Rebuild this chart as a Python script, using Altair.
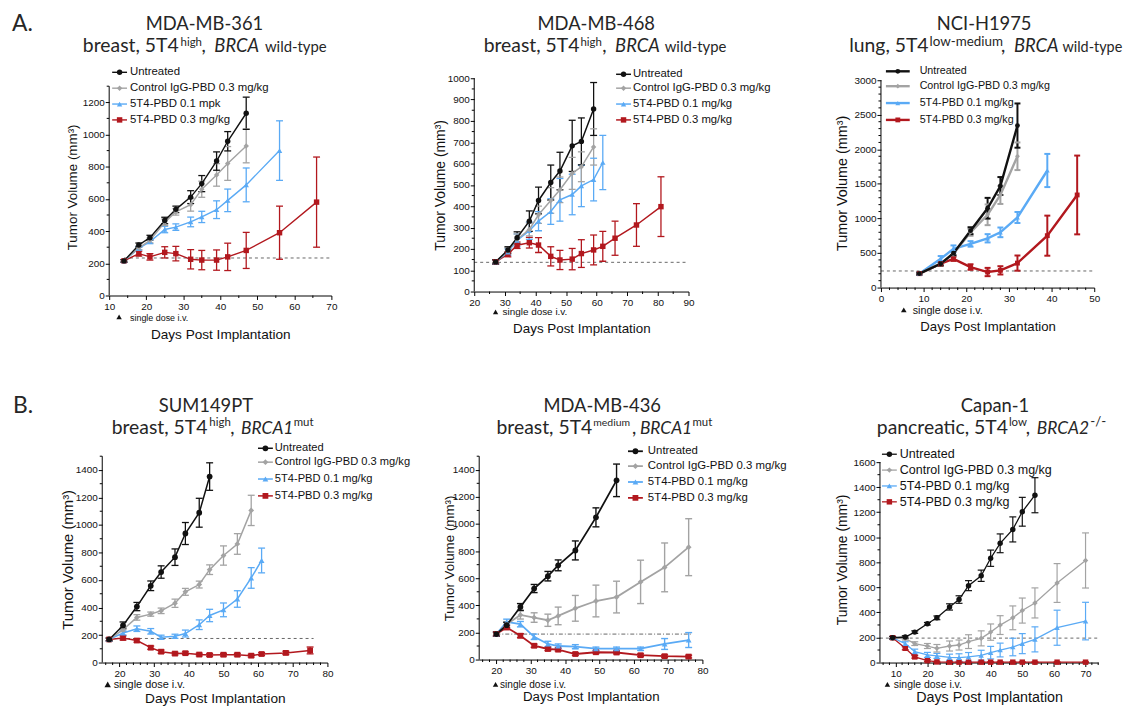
import math
import altair as alt
import pandas as pd

# ---------------- values ----------------
# A1  MDA-MB-361
A1_UNT_DAY = [14, 18, 21, 25, 28, 32, 35, 39, 42, 47]
A1_UNT = [215, 314, 359, 466, 535, 611, 695, 835, 958, 1132]
A1_UNT_SEM = [8, 12, 15, 20, 20, 40, 50, 57, 60, 100]
A1_CTL_DAY = [14, 18, 21, 25, 28, 32, 35, 39, 42, 47]
A1_CTL = [215, 297, 342, 455, 519, 564, 660, 749, 820, 929]
A1_CTL_SEM = [8, 12, 15, 20, 20, 40, 50, 70, 105, 105]
A1_LOW_DAY = [14, 18, 21, 25, 28, 32, 35, 39, 42, 47, 56]
A1_LOW = [215, 293, 334, 410, 425, 457, 488, 533, 591, 687, 900]
A1_LOW_SEM = [8, 10, 12, 20, 20, 30, 35, 55, 70, 105, 185]
A1_HIGH_DAY = [14, 18, 21, 25, 28, 32, 35, 39, 42, 47, 56, 66]
A1_HIGH = [215, 260, 240, 268, 260, 225, 220, 220, 240, 280, 390, 580]
A1_HIGH_SEM = [8, 15, 20, 35, 45, 60, 60, 63, 85, 112, 165, 280]
A1_BASE = 233

# A2  MDA-MB-468
A2_UNT_DAY = [27, 31, 34, 38, 41, 45, 48, 52, 55, 59]
A2_UNT = [139, 195, 252, 330, 427, 511, 565, 683, 704, 856]
A2_UNT_SEM = [10, 15, 28, 48, 63, 82, 88, 120, 110, 124]
A2_CTL_DAY = [27, 31, 34, 38, 41, 45, 48, 52, 55, 59]
A2_CTL = [139, 190, 245, 291, 360, 427, 477, 554, 585, 678]
A2_CTL_SEM = [10, 15, 25, 30, 40, 60, 60, 75, 70, 85]
A2_LOW_DAY = [27, 31, 34, 38, 41, 45, 48, 52, 55, 59, 62]
A2_LOW = [139, 185, 240, 285, 330, 375, 430, 455, 495, 525, 605]
A2_LOW_SEM = [10, 15, 30, 40, 45, 60, 100, 95, 97, 100, 127]
A2_HIGH_DAY = [27, 31, 34, 38, 41, 45, 48, 52, 55, 59, 62, 66, 73, 81]
A2_HIGH = [139, 175, 217, 229, 218, 165, 148, 152, 178, 195, 212, 250, 312, 398]
A2_HIGH_SEM = [8, 12, 15, 25, 35, 45, 45, 50, 65, 70, 70, 80, 100, 140]
A2_BASE = 137

# A3  NCI-H1975
A3_UNT_DAY = [9, 14, 17, 21, 25, 28, 32]
A3_UNT = [201, 344, 498, 823, 1148, 1469, 2344]
A3_UNT_SEM = [15, 25, 30, 50, 150, 130, 320]
A3_CTL_DAY = [9, 14, 17, 21, 25, 28, 32]
A3_CTL = [201, 350, 488, 799, 1053, 1340, 1900]
A3_CTL_SEM = [15, 25, 30, 50, 150, 130, 200]
A3_LOW_DAY = [9, 14, 17, 21, 25, 28, 32, 39]
A3_LOW = [201, 416, 560, 632, 713, 799, 1014, 1694]
A3_LOW_SEM = [15, 40, 50, 40, 60, 70, 80, 240]
A3_HIGH_DAY = [9, 14, 17, 21, 25, 28, 32, 39, 46]
A3_HIGH = [201, 345, 416, 297, 225, 249, 354, 751, 1340]
A3_HIGH_SEM = [15, 25, 30, 40, 60, 60, 110, 290, 570]
A3_BASE = 240

# B1  SUM149PT
B1_UNT_DAY = [17, 21, 25, 29, 32, 36, 39, 43, 46]
B1_UNT = [168, 270, 407, 558, 658, 766, 938, 1089, 1352]
B1_UNT_SEM = [10, 25, 30, 35, 45, 60, 80, 105, 100]
B1_CTL_DAY = [17, 21, 25, 29, 32, 36, 39, 43, 46, 50, 54, 58]
B1_CTL = [168, 239, 328, 352, 376, 431, 514, 567, 675, 778, 862, 1106]
B1_CTL_SEM = [10, 15, 20, 15, 20, 30, 25, 25, 35, 70, 75, 110]
B1_LOW_DAY = [17, 21, 25, 29, 32, 36, 39, 43, 46, 50, 54, 58, 61]
B1_LOW = [168, 215, 246, 227, 184, 191, 211, 275, 342, 383, 462, 615, 742]
B1_LOW_SEM = [10, 15, 20, 20, 15, 15, 25, 35, 45, 50, 60, 75, 90]
B1_HIGH_DAY = [17, 21, 25, 29, 32, 36, 39, 43, 46, 50, 54, 58, 61, 68, 75]
B1_HIGH = [168, 179, 160, 108, 79, 65, 68, 58, 55, 57, 57, 50, 62, 70, 88]
B1_HIGH_SEM = [10, 15, 12, 12, 12, 10, 10, 10, 10, 10, 10, 10, 10, 12, 25]
B1_BASE = 175

# B2  MDA-MB-436
B2_UNT_DAY = [20, 23, 27, 31, 35, 38, 43, 49, 55]
B2_UNT = [188, 254, 388, 524, 615, 695, 805, 1049, 1322]
B2_UNT_SEM = [15, 20, 25, 30, 35, 40, 70, 70, 120]
B2_CTL_DAY = [20, 23, 27, 31, 35, 38, 43, 49, 55, 62, 69, 76]
B2_CTL = [188, 260, 329, 310, 290, 322, 378, 432, 461, 573, 680, 829]
B2_CTL_SEM = [15, 20, 30, 35, 45, 65, 95, 117, 117, 160, 180, 210]
B2_LOW_DAY = [20, 23, 27, 31, 35, 38, 43, 49, 55, 62, 69, 76]
B2_LOW = [188, 278, 261, 168, 115, 100, 95, 80, 80, 80, 115, 144]
B2_LOW_SEM = [15, 20, 20, 20, 20, 15, 15, 12, 12, 12, 40, 55]
B2_HIGH_DAY = [20, 23, 27, 31, 35, 38, 43, 49, 55, 62, 69, 76]
B2_HIGH = [188, 237, 176, 102, 78, 73, 41, 54, 52, 32, 25, 22]
B2_HIGH_SEM = [15, 15, 15, 12, 12, 10, 10, 10, 10, 10, 10, 10]
B2_BASE = 188

# B3  Capan-1
B3_UNT_DAY = [9, 13, 16, 20, 23, 27, 30, 33, 37, 40, 43, 47, 50, 54]
B3_UNT = [198, 204, 243, 310, 357, 444, 503, 614, 693, 833, 952, 1063, 1204, 1336]
B3_UNT_SEM = [10, 10, 10, 10, 15, 25, 30, 40, 45, 65, 75, 100, 115, 140]
B3_CTL_DAY = [9, 13, 16, 20, 23, 27, 30, 33, 37, 40, 43, 47, 50, 54, 61, 70]
B3_CTL = [198, 190, 151, 132, 114, 132, 140, 167, 193, 243, 299, 357, 415, 476, 635, 815]
B3_CTL_SEM = [10, 10, 15, 20, 30, 40, 40, 55, 60, 65, 75, 95, 100, 120, 155, 220]
B3_LOW_DAY = [9, 13, 16, 20, 23, 27, 30, 33, 37, 40, 43, 47, 50, 54, 61, 70]
B3_LOW = [198, 151, 87, 61, 53, 42, 40, 45, 58, 79, 100, 124, 151, 185, 278, 331]
B3_LOW_SEM = [10, 15, 20, 20, 20, 25, 30, 35, 40, 50, 55, 70, 80, 100, 140, 150]
B3_HIGH_DAY = [9, 13, 16, 20, 23, 27, 30, 33, 37, 40, 43, 47, 50, 54, 61, 70]
B3_HIGH = [198, 114, 45, 15, 5, 3, 3, 3, 3, 3, 3, 3, 3, 3, 3, 3]
B3_HIGH_SEM = [10, 12, 10, 8, 5, 3, 3, 3, 3, 3, 3, 3, 3, 3, 3, 3]
B3_BASE = 195

KEYS = ["high", "low", "ctl", "unt"]          # drawing order (black on top)
COLORS = ["#b2181e", "#5aaaf5", "#a3a3a3", "#111111"]
SHAPES = ["square", "triangle-up", "diamond", "circle"]
LEG_KEYS = ["unt", "ctl", "low", "high"]
LABELS_STD = ["Untreated", "Control IgG-PBD 0.3 mg/kg", "5T4-PBD 0.1 mg/kg", "5T4-PBD 0.3 mg/kg"]
LABELS_A1 = ["Untreated", "Control IgG-PBD 0.3 mg/kg", "5T4-PBD 0.1 mpk", "5T4-PBD 0.3 mg/kg"]

XT = "Days Post Implantation"
YT = "Tumor Volume (mm³)"
TFONT = "Lato"
AFONT = "Liberation Sans"


def ser(p):
    g = globals()
    return {k: (g[f"{p}_{k.upper()}_DAY"], g[f"{p}_{k.upper()}"], g[f"{p}_{k.upper()}_SEM"]) for k in KEYS}


# ---------------- layout / style (page pixel positions) ----------------
# box = (left, top, width, height) of the view; ytop = top of the drawn y axis line
PANELS = {
    "A1": dict(box=(110, 76, 224, 219), xd=(10, 70), yd=(0, 1349.3), ytop=1300, xticks=(10, 5), yticks=(200, 100),
               base=(A1_BASE, 14, 70), dash=[3, 3], lw=1.4, ew=1.3, ms=30, cap=7, lab=10,
               xtitle=(13.7, 43), ytitle=(13.5, -33),
               legend=dict(rows=[70, 86, 102, 118], x1=113, x2=128, xm=120.5, xt=131, fs=11.5, labels=LABELS_A1),
               dose=dict(tri=(120, 316.5), ts=30, txt=(131, 320.5), fs=9),
               title=[("A.", 12, 28, 23, "left", False),
                      ("MDA-MB-361", 206, 27, 18.5, "center", False),
                      ("breast, 5T4", 180, 50, 19.5, "right", False),
                      ("high", 182, 43, 11.5, "left", False),
                      (",", 203, 50, 19, "left", False),
                      ("BRCA", 216, 50, 18.5, "left", True),
                      ("wild-type", 267, 50, 15, "left", False)]),
    "A2": dict(box=(478, 76, 216, 215), xd=(20, 90), yd=(0, 1000), ytop=1000, xticks=(10, 5), yticks=(100, 50),
               base=(A2_BASE, 20, 90), dash=[3, 3], lw=1.5, ew=1.3, ms=30, cap=7, lab=10,
               xtitle=(13.5, 41), ytitle=(14, -30),
               legend=dict(rows=[72, 86, 102, 118], x1=621, x2=636, xm=628.5, xt=638, fs=11.4, labels=LABELS_STD),
               dose=dict(tri=(499.5, 311.5), ts=28, txt=(506.5, 315), fs=10),
               title=[("MDA-MB-468", 601, 27, 18.5, "center", False),
                      ("breast, 5T4", 584, 50, 19.5, "right", False),
                      ("high", 585, 43, 11.5, "left", False),
                      (",", 607, 50, 19, "left", False),
                      ("BRCA", 620, 50, 18.5, "left", True),
                      ("wild-type", 670, 50, 15, "left", False)]),
    "A3": dict(box=(888, 76, 215, 211), xd=(0, 50), yd=(0, 3028.7), ytop=3000, xticks=(10, 2), yticks=(500, 100),
               base=(A3_BASE, 0, 50), dash=[3, 3], lw=2.4, ew=2.0, ms=24, cap=6, lab=10,
               xtitle=(13.3, 43), ytitle=(14.5, -35),
               legend=dict(rows=[69, 84, 101, 118], x1=893, x2=917, xm=905, xt=927, fs=10.8, labels=LABELS_STD),
               dose=dict(tri=(911, 309.5), ts=32, txt=(920, 313.5), fs=10.8),
               title=[("NCI-H1975", 992, 27, 18.5, "center", False),
                      ("lung, 5T4", 936, 50, 19.5, "right", False),
                      ("low-medium", 937, 43, 13.5, "left", False),
                      (",", 1009, 50, 19, "left", False),
                      ("BRCA", 1022, 50, 18.5, "left", True),
                      ("wild-type", 1071, 50, 14.5, "left", False)]),
    "B1": dict(box=(103, 457, 227, 208), xd=(15, 80), yd=(0, 1500), ytop=1500, xticks=(10, 2), yticks=(200, 100),
               base=(B1_BASE, 17, 76), dash=[3, 3], lw=1.5, ew=1.3, ms=34, cap=7, lab=10,
               xtitle=(13.8, 40), ytitle=(15, -30),
               legend=dict(rows=[449, 463, 480, 497], x1=260, x2=275, xm=267.5, xt=277, fs=11.2, labels=LABELS_STD),
               dose=dict(tri=(108.5, 687), ts=42, txt=(114.5, 691), fs=11),
               title=[("B.", 13, 413, 23, "left", False),
                      ("SUM149PT", 207.5, 412, 18.5, "center", False),
                      ("breast, 5T4", 209, 435, 19.5, "right", False),
                      ("high", 211, 427, 11.5, "left", False),
                      (",", 232, 435, 19, "left", False),
                      ("BRCA1", 243, 435, 17.5, "left", True),
                      ("mut", 296, 427, 11.5, "left", False)]),
    "B2": dict(box=(483, 457, 225, 205), xd=(15, 80), yd=(0, 1500), ytop=1500, xticks=(10, 2), yticks=(200, 100),
               base=(B2_BASE, 20, 77), dash=[4, 2, 1, 2], lw=1.8, ew=1.4, ms=34, cap=7, lab=10,
               xtitle=(13.4, 41), ytitle=(13.5, -26),
               legend=dict(rows=[452, 467, 483, 499], x1=633, x2=648, xm=640.5, xt=653, fs=11.5, labels=LABELS_STD),
               dose=dict(tri=(499.5, 687), ts=30, txt=(504, 691), fs=10.2),
               title=[("MDA-MB-436", 607, 412, 18.5, "center", False),
                      ("breast, 5T4", 597, 435, 19.5, "right", False),
                      ("medium", 598, 427, 10.5, "left", False),
                      (",", 637, 435, 19, "left", False),
                      ("BRCA1", 645, 435, 17.5, "left", True),
                      ("mut", 698, 427, 11.5, "left", False)]),
    "B3": dict(box=(887, 457, 220, 208), xd=(5, 74), yd=(0, 1647.5), ytop=1600, xticks=(10, 2), yticks=(200, 100),
               base=(B3_BASE, 5, 74), dash=[3, 3], lw=1.3, ew=1.2, ms=30, cap=7, lab=10,
               xtitle=(14.4, 39), ytitle=(14, -34),
               legend=dict(rows=[455, 471, 487, 503], x1=889, x2=904, xm=896.5, xt=907, fs=12.6, labels=LABELS_STD),
               dose=dict(tri=(894.5, 687), ts=30, txt=(901, 691), fs=10.5),
               title=[("Capan-1", 1003, 412, 18.5, "center", False),
                      ("pancreatic, 5T4", 1016, 435, 19.5, "right", False),
                      ("low", 1017, 427, 11.5, "left", False),
                      (",", 1034, 435, 19, "left", False),
                      ("BRCA2", 1045, 435, 17.5, "left", True),
                      ("-/-", 1099, 427, 13.5, "left", False)]),
}


def spacer(w, h):
    return (alt.Chart(pd.DataFrame({"s": [0]}))
            .mark_point(opacity=0, size=1)
            .encode(x=alt.value(0), y=alt.value(0))
            .properties(width=w, height=h))


def make_panel(name, anchor=False):
    P = PANELS[name]
    L, T, W, H = P["box"]
    d0, d1 = P["xd"]
    y0, y1 = P["yd"]

    def ux(px):
        return d0 + (px - L) / W * (d1 - d0)

    def uy(py):
        return y1 - (py - T) / H * (y1 - y0)

    series = ser(name)
    rows, caps = [], []
    for key in KEYS:
        days, vals, sems = series[key]
        for d, v, e in zip(days, vals, sems):
            lo, hi = max(v - e, 0), v + e
            rows.append(dict(key=key, day=d, v=v, lo=lo, hi=hi))
            caps.append(dict(key=key, day=d, c=lo))
            caps.append(dict(key=key, day=d, c=hi))
    df = pd.DataFrame(rows)
    cdf = pd.DataFrame(caps)

    xs = alt.Scale(domain=list(P["xd"]), nice=False, zero=False)
    ys = alt.Scale(domain=list(P["yd"]), nice=False, zero=False)
    col = alt.Color("key:N", scale=alt.Scale(domain=KEYS, range=COLORS), legend=None)
    shp = alt.Shape("key:N", scale=alt.Scale(domain=KEYS, range=SHAPES), legend=None)

    xmaj, xmin = P["xticks"]
    ymaj, ymin = P["yticks"]
    ytop = P["ytop"]
    xmajor = [v for v in range(math.ceil(d0), math.floor(d1) + 1) if v % xmaj == 0]
    xminor = [v for v in range(math.ceil(d0), math.floor(d1) + 1) if v % xmin == 0 and v % xmaj != 0]
    ymajor = list(range(0, ytop + 1, ymaj))
    yminor = [v for v in range(0, ytop + 1, ymin) if v % ymaj != 0]

    xaxis = alt.Axis(values=xmajor, format="d", tickSize=4, tickCount=len(xmajor),
                     labelFlush=False, labelOverlap=False, labelPadding=2, labelFontSize=P["lab"],
                     titleY=P["xtitle"][1], titleFontSize=P["xtitle"][0], titleBaseline="alphabetic")
    yaxis = alt.Axis(values=ymajor, format="d", tickSize=4, tickCount=len(ymajor), domain=False,
                     labelFlush=False, labelOverlap=False, labelPadding=1, labelFontSize=P["lab"],
                     titleX=P["ytitle"][1], titleFontSize=P["ytitle"][0], titleBaseline="alphabetic")

    def X(f):
        return alt.X(f, scale=xs, title=XT, axis=xaxis)

    def Y(f):
        return alt.Y(f, scale=ys, title=YT, axis=yaxis)

    layers = []
    bv, bx0, bx1 = P["base"]
    bdf = pd.DataFrame({"x": [bx0], "x2": [bx1], "y": [bv]})
    layers.append(alt.Chart(bdf).mark_rule(color="#555555", strokeWidth=0.9, strokeDash=P["dash"])
                  .encode(x=X("x:Q"), x2="x2:Q", y=Y("y:Q")))
    # y axis line (only up to the last tick) and minor ticks
    adf = pd.DataFrame({"x": [d0], "y": [0], "y2": [ytop]})
    layers.append(alt.Chart(adf).mark_rule(color="#000000", strokeWidth=1)
                  .encode(x=X("x:Q"), y=Y("y:Q"), y2="y2:Q"))
    layers.append(alt.Chart(pd.DataFrame({"t": xminor})).mark_rule(color="#000000", strokeWidth=1)
                  .encode(x=X("t:Q"), y=alt.value(H), y2=alt.value(H + 2.5)))
    layers.append(alt.Chart(pd.DataFrame({"t": yminor})).mark_rule(color="#000000", strokeWidth=1)
                  .encode(y=Y("t:Q"), x=alt.value(0), x2=alt.value(-2.5)))
    # error bars
    layers.append(alt.Chart(df).mark_rule(strokeWidth=P["ew"])
                  .encode(x=X("day:Q"), y=Y("lo:Q"), y2="hi:Q", color=col))
    layers.append(alt.Chart(cdf).mark_tick(orient="horizontal", size=P["cap"], thickness=P["ew"], opacity=1)
                  .encode(x=X("day:Q"), y=Y("c:Q"), color=col))
    # lines and markers
    layers.append(alt.Chart(df).mark_line(strokeWidth=P["lw"])
                  .encode(x=X("day:Q"), y=Y("v:Q"), color=col))
    layers.append(alt.Chart(df).mark_point(filled=True, opacity=1, size=P["ms"])
                  .encode(x=X("day:Q"), y=Y("v:Q"), color=col, shape=shp))

    # legend
    lg = P["legend"]
    ldf = pd.DataFrame([dict(key=k, label=lab, x1=ux(lg["x1"]), x2=ux(lg["x2"]), xm=ux(lg["xm"]),
                             xt=ux(lg["xt"]), y=uy(r))
                        for k, lab, r in zip(LEG_KEYS, lg["labels"], lg["rows"])])
    layers.append(alt.Chart(ldf).mark_rule(strokeWidth=P["lw"])
                  .encode(x=X("x1:Q"), x2="x2:Q", y=Y("y:Q"), color=col))
    layers.append(alt.Chart(ldf).mark_point(filled=True, opacity=1, size=P["ms"])
                  .encode(x=X("xm:Q"), y=Y("y:Q"), color=col, shape=shp))
    layers.append(alt.Chart(ldf).mark_text(align="left", baseline="middle", font=AFONT, fontSize=lg["fs"],
                                           color="#111111")
                  .encode(x=X("xt:Q"), y=Y("y:Q"), text="label:N"))

    # dose annotation
    ds = P["dose"]
    tdf = pd.DataFrame({"x": [ux(ds["tri"][0])], "y": [uy(ds["tri"][1])]})
    layers.append(alt.Chart(tdf).mark_point(shape="triangle-up", filled=True, opacity=1, color="#111111",
                                            size=ds["ts"])
                  .encode(x=X("x:Q"), y=Y("y:Q")))
    sdf = pd.DataFrame({"x": [ux(ds["txt"][0])], "y": [uy(ds["txt"][1])], "t": ["single dose i.v."]})
    layers.append(alt.Chart(sdf).mark_text(align="left", baseline="alphabetic", font=AFONT, fontSize=ds["fs"],
                                           color="#111111")
                  .encode(x=X("x:Q"), y=Y("y:Q"), text="t:N"))

    # titles (segments)
    segs = [dict(t=t, x=ux(px), y=uy(py), fs=fs, al=al, it=it) for (t, px, py, fs, al, it) in P["title"]]
    for al in ["left", "center", "right"]:
        for it in [False, True]:
            sub = [dict(t=s["t"], x=s["x"], y=s["y"], fs=s["fs"]) for s in segs if s["al"] == al and s["it"] == it]
            if not sub:
                continue
            layers.append(alt.Chart(pd.DataFrame(sub))
                          .mark_text(align=al, baseline="alphabetic", font=TFONT,
                                     fontStyle="italic" if it else "normal", color="#262626")
                          .encode(x=X("x:Q"), y=Y("y:Q"), text="t:N",
                                  size=alt.Size("fs:Q", scale=None, legend=None)))

    if anchor:
        layers.append(alt.Chart(pd.DataFrame({"a": [0]})).mark_rule(color="white", strokeWidth=1)
                      .encode(x=alt.value(-101.5), y=alt.value(-67.5), y2=alt.value(-66.5)))

    return alt.layer(*layers).properties(width=W, height=H)


row1 = alt.hconcat(spacer(7, 1), make_panel("A1", anchor=True), spacer(144, 1), make_panel("A2"),
                   spacer(194, 1), make_panel("A3"), spacing=0, bounds="flush")
row2 = alt.hconcat(make_panel("B1"), spacer(153, 1), make_panel("B2"), spacer(179, 1), make_panel("B3"),
                   spacing=0, bounds="flush")

# nested rows have no flush height of their own, so the spacing is the full row-to-row offset
chart = (alt.vconcat(row1, row2, spacing=381, bounds="flush")
         .properties(padding=0)
         .configure_view(strokeWidth=0)
         .configure_axis(domainColor="#000000", tickColor="#000000", labelColor="#111111",
                         titleColor="#111111", labelFont=AFONT, titleFont=AFONT, labelOverlap=False,
                         titleFontWeight="normal", grid=False, domainWidth=1, tickWidth=1))

chart.save("out.html", embed_options={"renderer": "svg", "actions": False})
